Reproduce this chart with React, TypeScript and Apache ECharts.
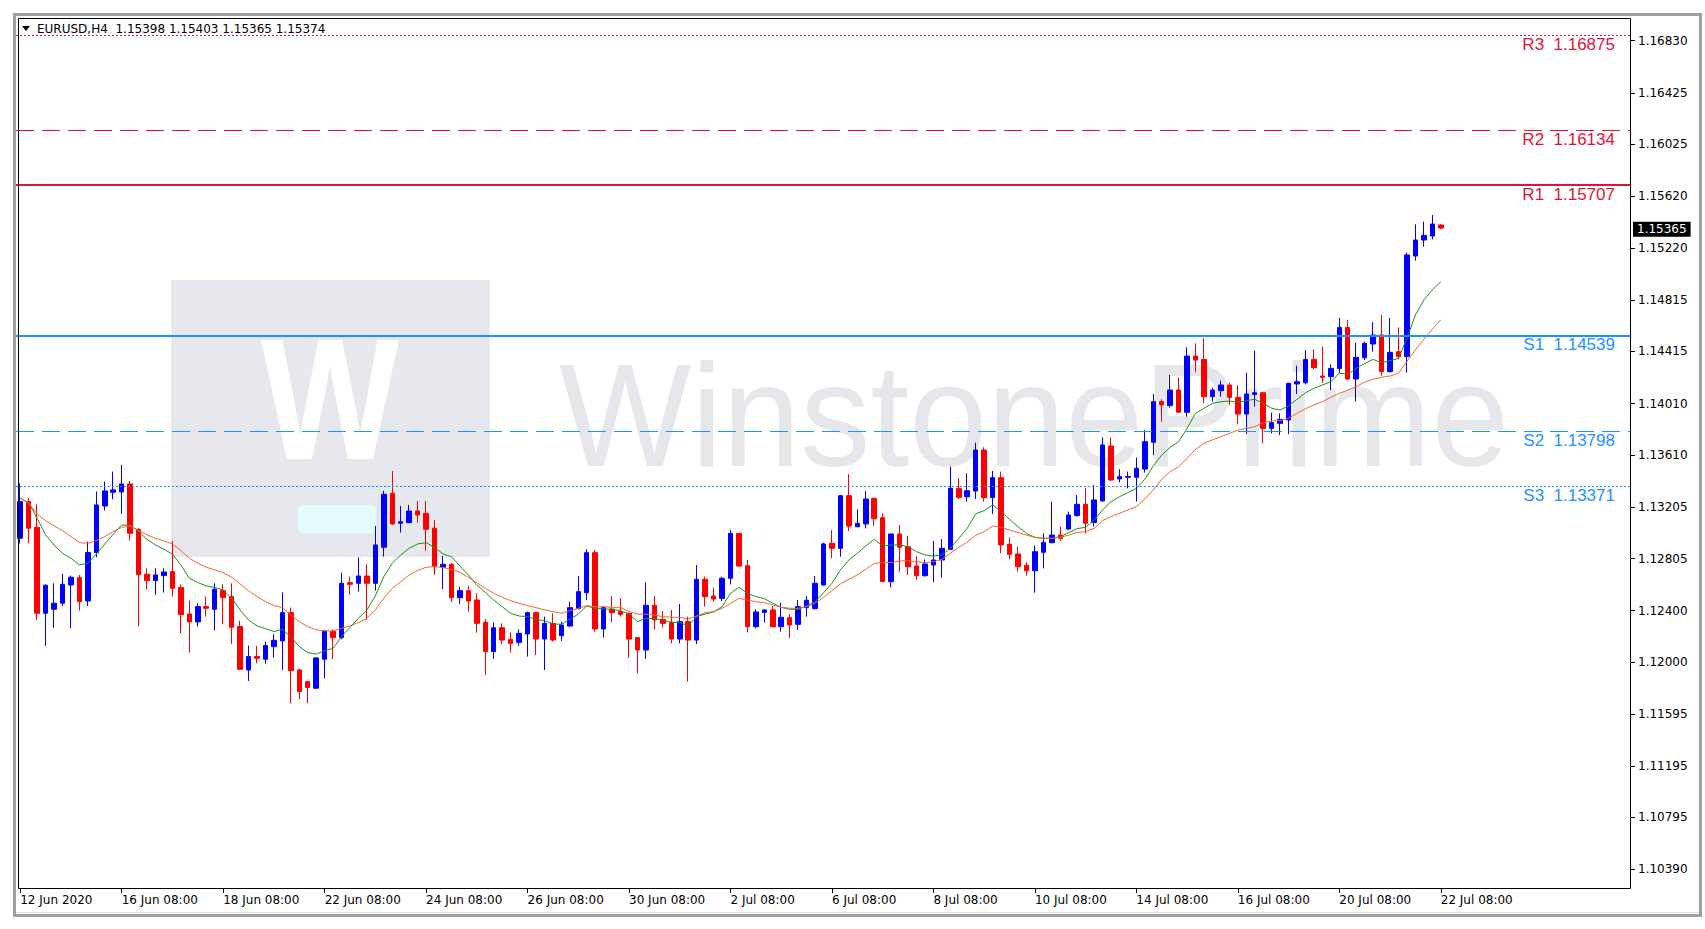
import React, { useEffect, useRef } from "react";
import * as echarts from "echarts";

// ---------- data ----------
const symbolTitle = "EURUSD,H4";
const lastBarOHLC = [1.15398, 1.15403, 1.15365, 1.15374];
const bidPrice = 1.15365;

const tickLabels = [
  "12 Jun 2020", "16 Jun 08:00", "18 Jun 08:00", "22 Jun 08:00", "24 Jun 08:00",
  "26 Jun 08:00", "30 Jun 08:00", "2 Jul 08:00", "6 Jul 08:00", "8 Jul 08:00",
  "10 Jul 08:00", "14 Jul 08:00", "16 Jul 08:00", "20 Jul 08:00", "22 Jul 08:00",
];
const barsPerTickLabel = 12;
const emptyBarsAtRight = 22;

const priceTicks = [
  1.1683, 1.16425, 1.16025, 1.1562, 1.1522, 1.14815, 1.14415, 1.1401, 1.1361,
  1.13205, 1.12805, 1.124, 1.12, 1.11595, 1.11195, 1.10795, 1.1039,
];
const priceMin = 1.102372;
const priceMax = 1.170064;

const levelNames = ["R3", "R2", "R1", "S1", "S2", "S3"];
const levelValues = [1.16875, 1.16134, 1.15707, 1.14539, 1.13798, 1.13371];

const opens = [
  1.12963, 1.13248, 1.13048, 1.1238, 1.12411, 1.12458, 1.126, 1.12657, 1.12476, 1.12852,
  1.13214, 1.1332, 1.13323, 1.13385, 1.13033, 1.12683, 1.12634, 1.12673, 1.12704, 1.1258,
  1.12375, 1.12313, 1.12432, 1.12411, 1.12556, 1.1251, 1.12277, 1.1194, 1.12044, 1.12023,
  1.12121, 1.12165, 1.12385, 1.1194, 1.11849, 1.11798, 1.12023, 1.12238, 1.12191, 1.12618,
  1.12613, 1.1267, 1.12613, 1.12893, 1.13313, 1.13079, 1.13085, 1.13175, 1.13157, 1.13041,
  1.12738, 1.1276, 1.12501, 1.12556, 1.12483, 1.1231, 1.12082, 1.12268, 1.12177, 1.12154,
  1.12219, 1.12385, 1.1218, 1.12302, 1.12206, 1.12281, 1.12416, 1.1254, 1.12851, 1.12258,
  1.12413, 1.12393, 1.1238, 1.12191, 1.12095, 1.12442, 1.12333, 1.1231, 1.1218, 1.12315,
  1.12172, 1.12644, 1.12514, 1.12496, 1.12652, 1.13001, 1.1275, 1.12276, 1.12387, 1.12406,
  1.12276, 1.12346, 1.12294, 1.12424, 1.12416, 1.126, 1.12924, 1.12885, 1.13294, 1.13053,
  1.13074, 1.13273, 1.13123, 1.12626, 1.12996, 1.12898, 1.12748, 1.12672, 1.12755, 1.12794,
  1.12877, 1.13351, 1.13286, 1.1333, 1.13649, 1.13279, 1.13434, 1.12916, 1.12841, 1.12753,
  1.12711, 1.12854, 1.12929, 1.12988, 1.13035, 1.13139, 1.13227, 1.13085, 1.13253, 1.1368,
  1.13424, 1.13437, 1.13437, 1.13501, 1.13709, 1.14025, 1.13994, 1.14115, 1.13942, 1.14379,
  1.14353, 1.14063, 1.1411, 1.14154, 1.14058, 1.13929, 1.14081, 1.14094, 1.13817, 1.13856,
  1.13882, 1.14162, 1.14172, 1.14353, 1.14224, 1.14219, 1.14283, 1.14602, 1.14201, 1.14366,
  1.14473, 1.14543, 1.14258, 1.14413, 1.14375, 1.15157, 1.15281, 1.15312, 1.15398,
];
const highs = [
  1.1339, 1.13274, 1.13227, 1.12605, 1.12613, 1.12686, 1.12673, 1.12678, 1.12937, 1.13326,
  1.13403, 1.13481, 1.13533, 1.13408, 1.13041, 1.1273, 1.1273, 1.1273, 1.12942, 1.12603,
  1.12479, 1.12458, 1.1251, 1.12613, 1.12605, 1.12613, 1.12321, 1.12129, 1.12126, 1.1216,
  1.12217, 1.12541, 1.12424, 1.1195, 1.11852, 1.12038, 1.12245, 1.12256, 1.12696, 1.12665,
  1.12815, 1.12761, 1.13059, 1.13331, 1.13486, 1.13214, 1.13222, 1.13253, 1.13253, 1.13105,
  1.12826, 1.1277, 1.12587, 1.12595, 1.12535, 1.12336, 1.1231, 1.12302, 1.12232, 1.12255,
  1.12393, 1.12393, 1.12354, 1.1238, 1.12315, 1.1247, 1.1267, 1.12877, 1.12872, 1.1243,
  1.12514, 1.12496, 1.12385, 1.12195, 1.12621, 1.12514, 1.12398, 1.12406, 1.12452, 1.12354,
  1.12755, 1.12665, 1.12579, 1.12665, 1.13027, 1.13005, 1.12794, 1.12411, 1.12411, 1.12437,
  1.12463, 1.12372, 1.12483, 1.12515, 1.1267, 1.12929, 1.13027, 1.133, 1.13462, 1.13188,
  1.1333, 1.13279, 1.13157, 1.13001, 1.13066, 1.12981, 1.12825, 1.12799, 1.12942, 1.12957,
  1.13519, 1.13429, 1.13468, 1.13706, 1.1367, 1.13486, 1.13481, 1.1297, 1.12898, 1.12776,
  1.12906, 1.13001, 1.13247, 1.13053, 1.1317, 1.13299, 1.13356, 1.13377, 1.13748, 1.13748,
  1.13499, 1.13481, 1.1359, 1.13804, 1.14084, 1.14043, 1.14232, 1.14214, 1.14447, 1.14478,
  1.14517, 1.14133, 1.14188, 1.14172, 1.14154, 1.1425, 1.14421, 1.141, 1.13939, 1.13934,
  1.14172, 1.14304, 1.14426, 1.14431, 1.14452, 1.14315, 1.14675, 1.14659, 1.14483, 1.14491,
  1.14644, 1.14698, 1.14675, 1.14602, 1.15183, 1.15403, 1.15424, 1.15475, 1.15403,
];
const lows = [
  1.12924, 1.12924, 1.12328, 1.12126, 1.12264, 1.12437, 1.12264, 1.12401, 1.12437, 1.12815,
  1.13178, 1.13266, 1.13152, 1.12945, 1.12277, 1.12567, 1.12523, 1.12541, 1.1251, 1.12225,
  1.12075, 1.12277, 1.12354, 1.12246, 1.12295, 1.12142, 1.1194, 1.11854, 1.11992, 1.11987,
  1.12036, 1.1194, 1.11681, 1.11712, 1.11681, 1.1179, 1.11875, 1.12023, 1.12178, 1.12523,
  1.12549, 1.12328, 1.12556, 1.1282, 1.13067, 1.13007, 1.13079, 1.13085, 1.12865, 1.12678,
  1.12567, 1.1247, 1.12452, 1.12393, 1.12229, 1.119, 1.12025, 1.12139, 1.12074, 1.12128,
  1.12043, 1.12056, 1.11939, 1.1216, 1.12165, 1.12276, 1.1241, 1.12483, 1.12237, 1.12191,
  1.1231, 1.12354, 1.12035, 1.11913, 1.12025, 1.12255, 1.12271, 1.12146, 1.12146, 1.11849,
  1.12141, 1.12432, 1.1247, 1.12475, 1.12605, 1.1274, 1.12232, 1.12263, 1.1231, 1.12271,
  1.12237, 1.12186, 1.1225, 1.12354, 1.1241, 1.12595, 1.12807, 1.1282, 1.13019, 1.1305,
  1.1304, 1.13058, 1.12621, 1.12582, 1.12704, 1.12678, 1.12639, 1.12665, 1.12621, 1.12657,
  1.1287, 1.13268, 1.13247, 1.13268, 1.13247, 1.13152, 1.12846, 1.12799, 1.12704, 1.12672,
  1.1254, 1.12729, 1.12925, 1.12944, 1.13027, 1.13131, 1.13001, 1.13054, 1.13248, 1.13408,
  1.13398, 1.13351, 1.13248, 1.13473, 1.1361, 1.13869, 1.13978, 1.13939, 1.13908, 1.14253,
  1.14012, 1.14025, 1.14063, 1.13999, 1.13848, 1.13773, 1.13986, 1.13701, 1.13778, 1.13765,
  1.13773, 1.14084, 1.14159, 1.14276, 1.14172, 1.14115, 1.14245, 1.14193, 1.14025, 1.14348,
  1.14413, 1.14227, 1.1425, 1.14353, 1.1425, 1.15121, 1.15229, 1.15286, 1.15365,
];
const closes = [
  1.13248, 1.13041, 1.1238, 1.12598, 1.12458, 1.12605, 1.1266, 1.12471, 1.12852, 1.13222,
  1.13331, 1.13339, 1.13385, 1.13002, 1.12681, 1.12634, 1.12678, 1.12701, 1.12574, 1.1237,
  1.12313, 1.12432, 1.12419, 1.12567, 1.12502, 1.12271, 1.11945, 1.12044, 1.12031, 1.12129,
  1.1217, 1.12385, 1.11935, 1.11772, 1.11803, 1.12033, 1.12243, 1.12191, 1.12613, 1.12605,
  1.1267, 1.12613, 1.12911, 1.13305, 1.13074, 1.13092, 1.13175, 1.13144, 1.13033, 1.12743,
  1.12761, 1.12501, 1.12556, 1.12475, 1.12302, 1.12082, 1.12268, 1.12172, 1.12146, 1.12224,
  1.12385, 1.1218, 1.12302, 1.12172, 1.12289, 1.12424, 1.12548, 1.12851, 1.12258, 1.12424,
  1.12385, 1.12372, 1.1218, 1.12095, 1.12442, 1.12328, 1.12302, 1.1218, 1.12315, 1.12172,
  1.12644, 1.12509, 1.12491, 1.12652, 1.13001, 1.12747, 1.12276, 1.1239, 1.12406, 1.12276,
  1.12349, 1.12289, 1.12432, 1.12481, 1.12613, 1.12919, 1.12885, 1.13294, 1.13058, 1.13079,
  1.13268, 1.13115, 1.12626, 1.12996, 1.12893, 1.12742, 1.12672, 1.12763, 1.12794, 1.12885,
  1.13351, 1.13281, 1.13333, 1.13649, 1.13279, 1.13434, 1.12911, 1.12838, 1.12742, 1.12711,
  1.12859, 1.12931, 1.12988, 1.12963, 1.13144, 1.13227, 1.13079, 1.13261, 1.13688, 1.13416,
  1.13442, 1.13444, 1.13507, 1.13714, 1.14025, 1.13999, 1.14115, 1.13942, 1.14379, 1.14348,
  1.14063, 1.14115, 1.14154, 1.14058, 1.13929, 1.14084, 1.14094, 1.13817, 1.13861, 1.13887,
  1.14167, 1.1418, 1.14353, 1.14289, 1.14214, 1.14283, 1.14602, 1.14201, 1.14369, 1.14478,
  1.14543, 1.14258, 1.14408, 1.14374, 1.15165, 1.15281, 1.15317, 1.15405, 1.15374,
];

// moving averages as drawn on the reference (green = fast, orange = slow)
const maFast = [
  1.13274, 1.1324, 1.13118, 1.12989, 1.12911, 1.12846, 1.12808, 1.12756, 1.12769, 1.12841,
  1.12919, 1.12994, 1.13067, 1.13064, 1.13015, 1.12955, 1.12911, 1.12878, 1.12839, 1.12756,
  1.12652, 1.12619, 1.12593, 1.1258, 1.12562, 1.12497, 1.12406, 1.12328, 1.12282, 1.12261,
  1.12238, 1.12256, 1.12199, 1.12121, 1.12075, 1.12062, 1.1209, 1.12108, 1.12199, 1.12269,
  1.12341, 1.12406, 1.12515, 1.12665, 1.12769, 1.12833, 1.12885, 1.12919, 1.12929, 1.12893,
  1.12841, 1.1282, 1.12747, 1.12677, 1.126, 1.12543, 1.12483, 1.12431, 1.1238, 1.12359,
  1.12354, 1.12333, 1.12323, 1.12297, 1.12294, 1.12333, 1.12374, 1.12437, 1.12418, 1.12413,
  1.12411, 1.124, 1.12374, 1.12315, 1.12341, 1.12338, 1.12328, 1.1231, 1.12307, 1.12284,
  1.12354, 1.12374, 1.1239, 1.12431, 1.12535, 1.12582, 1.12535, 1.12509, 1.12494, 1.12458,
  1.12426, 1.12411, 1.12411, 1.12437, 1.1247, 1.1254, 1.12613, 1.12717, 1.12794, 1.12846,
  1.12903, 1.12955, 1.12903, 1.12911, 1.12911, 1.12898, 1.12859, 1.12833, 1.12825, 1.12833,
  1.12885, 1.12963, 1.1304, 1.13152, 1.13178, 1.13222, 1.1317, 1.1311, 1.13053, 1.13001,
  1.1297, 1.12963, 1.12963, 1.12976, 1.13007, 1.13038, 1.13048, 1.13105, 1.13183, 1.13247,
  1.13286, 1.13317, 1.13351, 1.13421, 1.13525, 1.1361, 1.1367, 1.13714, 1.13817, 1.13934,
  1.13973, 1.14012, 1.14024, 1.1403, 1.14019, 1.14032, 1.14043, 1.14012, 1.13973, 1.1396,
  1.13991, 1.14043, 1.14094, 1.14128, 1.14154, 1.1418, 1.14245, 1.14239, 1.14283, 1.14322,
  1.14353, 1.14327, 1.14343, 1.14361, 1.14517, 1.14698, 1.14815, 1.14893, 1.14957,
];
const maSlow = [
  1.13274, 1.13235, 1.13152, 1.131, 1.13059, 1.13023, 1.12976, 1.12929, 1.12924, 1.12945,
  1.12976, 1.13015, 1.13048, 1.13059, 1.13023, 1.12989, 1.12963, 1.12942, 1.12919, 1.12867,
  1.12808, 1.12769, 1.12738, 1.12717, 1.12696, 1.1266, 1.12608, 1.12556, 1.1251, 1.12471,
  1.1244, 1.12424, 1.12367, 1.12315, 1.12277, 1.12251, 1.12243, 1.12243, 1.12264, 1.12282,
  1.12308, 1.12341, 1.12406, 1.12497, 1.12574, 1.12626, 1.12678, 1.12712, 1.12738, 1.12743,
  1.12735, 1.12722, 1.12698, 1.12659, 1.12618, 1.12574, 1.12535, 1.12504, 1.12478, 1.12457,
  1.12439, 1.12424, 1.12406, 1.12393, 1.1238, 1.124, 1.12418, 1.12439, 1.12431, 1.12431,
  1.12426, 1.12426, 1.12393, 1.12374, 1.12372, 1.12367, 1.12354, 1.12349, 1.12349, 1.12336,
  1.12359, 1.12385, 1.12393, 1.12418, 1.12457, 1.12496, 1.12483, 1.1247, 1.12463, 1.12445,
  1.12426, 1.12419, 1.12419, 1.12432, 1.12458, 1.12504, 1.12556, 1.12608, 1.12644, 1.12678,
  1.12722, 1.12768, 1.12774, 1.12774, 1.12786, 1.12789, 1.12781, 1.12774, 1.12781, 1.12799,
  1.12846, 1.12893, 1.12934, 1.12986, 1.13014, 1.13058, 1.13048, 1.13027, 1.13007, 1.12988,
  1.1297, 1.12963, 1.12963, 1.1297, 1.12988, 1.13007, 1.13014, 1.1304, 1.131, 1.13131,
  1.13157, 1.13183, 1.13209, 1.13268, 1.13338, 1.13421, 1.13481, 1.13519, 1.13584, 1.13654,
  1.13701, 1.13727, 1.13753, 1.13778, 1.13804, 1.13817, 1.1383, 1.13861, 1.13874, 1.13877,
  1.13895, 1.13934, 1.1397, 1.13999, 1.14024, 1.14058, 1.14089, 1.14115, 1.14141, 1.14177,
  1.14198, 1.14214, 1.14224, 1.14245, 1.14336, 1.14427, 1.14509, 1.14587, 1.1466,
];

// ---------- styles ----------
const W = 1705;
const H = 929;
const RED = "#dc143c";
const BLUE = "#1e90ff";
const levelStyles: Record<string, { color: string; width: number; type: any }> = {
  R3: { color: RED, width: 1, type: [2, 2] },
  R2: { color: RED, width: 1, type: [18, 8] },
  R1: { color: RED, width: 2, type: "solid" },
  S1: { color: BLUE, width: 2, type: "solid" },
  S2: { color: BLUE, width: 1, type: [18, 8] },
  S3: { color: BLUE, width: 1, type: [2, 2] },
};

export default function App() {
  const ref = useRef<HTMLDivElement>(null);

  useEffect(() => {
    document.body.style.margin = "0";
    if (!ref.current) return;
    const chart = echarts.init(ref.current, undefined, { renderer: "svg" });

    const nCats = opens.length + emptyBarsAtRight;
    const categories = Array.from({ length: nCats }, (_, i) => String(i));
    const showTick = (index: number) =>
      index % barsPerTickLabel === 0 && index / barsPerTickLabel < tickLabels.length;

    const candles = opens.map((o, i) => [o, closes[i], lows[i], highs[i]]);

    const levelMarks: any[] = levelNames.map((name, i) => {
      const st = levelStyles[name];
      return {
        yAxis: levelValues[i],
        lineStyle: { color: st.color, width: st.width, type: st.type },
        label: {
          show: true,
          position: "insideEndBottom",
          formatter: `${name}  ${levelValues[i].toFixed(5)}`,
          color: st.color,
          fontSize: 17,
          fontFamily: "Liberation Sans",
          distance: [16, 1],
        },
      };
    });
    levelMarks.push({
      yAxis: bidPrice,
      lineStyle: { color: "transparent", width: 0 },
      label: {
        show: true,
        position: "end",
        formatter: bidPrice.toFixed(5),
        color: "#ffffff",
        backgroundColor: "#000000",
        padding: [2, 4, 1, 4],
        fontSize: 12,
        fontFamily: "DejaVu Sans",
        distance: 2,
      },
    });

    const axisFont = { fontFamily: "DejaVu Sans", fontSize: 12, color: "#000" };

    chart.setOption({
      animation: false,
      backgroundColor: "#ffffff",
      grid: { left: 16, right: W - 1631, top: 18, bottom: H - 889, containLabel: false },
      xAxis: {
        type: "category",
        data: categories,
        boundaryGap: true,
        axisLine: { show: false },
        axisTick: {
          show: true,
          alignWithLabel: true,
          interval: showTick,
          length: 4,
          lineStyle: { color: "#000" },
        },
        axisLabel: {
          ...axisFont,
          interval: showTick,
          align: "left",
          margin: 5,
          formatter: (_v: string, index: number) => tickLabels[index / barsPerTickLabel] ?? "",
        },
        splitLine: { show: false },
      },
      yAxis: {
        type: "value",
        position: "right",
        min: priceMin,
        max: priceMax,
        axisLine: { show: false },
        axisTick: {
          show: true,
          length: 4,
          customValues: priceTicks,
          lineStyle: { color: "#000" },
        },
        axisLabel: {
          ...axisFont,
          customValues: priceTicks,
          margin: 7,
          formatter: (v: number) => v.toFixed(5),
        },
        splitLine: { show: false },
      },
      series: [
        {
          type: "candlestick",
          data: candles,
          barWidth: 5,
          z: 2,
          itemStyle: {
            color: "#0000ff",
            color0: "#ff0000",
            borderColor: "#0000ff",
            borderColor0: "#ff0000",
            borderWidth: 1,
          },
          emphasis: { disabled: true },
          markLine: {
            silent: true,
            precision: 5,
            symbol: ["none", "none"],
            animation: false,
            emphasis: { disabled: true },
            data: levelMarks,
          },
        },
        {
          type: "line",
          data: maFast,
          showSymbol: false,
          symbol: "none",
          z: 3,
          lineStyle: { color: "#1f8f1f", width: 1 },
          emphasis: { disabled: true },
        },
        {
          type: "line",
          data: maSlow,
          showSymbol: false,
          symbol: "none",
          z: 3,
          lineStyle: { color: "#f4662f", width: 1 },
          emphasis: { disabled: true },
        },
      ],
      graphic: [
        // watermark
        { type: "rect", z: 0, silent: true, shape: { x: 171, y: 280, width: 319, height: 277 }, style: { fill: "#e6e8ed" } },
        { type: "text", z: 0, silent: true, x: 330, y: 400, scaleX: 0.85, style: { text: "W", fill: "#ffffff", fontSize: 172, fontWeight: "bold", fontFamily: "Liberation Sans", align: "center", verticalAlign: "middle" } },
        { type: "rect", z: 0, silent: true, shape: { x: 298, y: 505, width: 78, height: 28, r: 5 }, style: { fill: "#e3fcfd" } },
        { type: "text", z: 0, silent: true, x: 559, y: 415, scaleX: 0.96, style: { text: "WinstonePrime", fill: "#e5e7ea", fontSize: 146, fontFamily: "Liberation Sans", align: "left", verticalAlign: "middle" } },
        // window frame
        { type: "rect", z: 50, silent: true, shape: { x: 14.5, y: 14.5, width: 1686, height: 901 }, style: { fill: "none", stroke: "#a0a0a0", lineWidth: 3 } },
        { type: "line", z: 50, silent: true, shape: { x1: 16, y1: 912.5, x2: 1699, y2: 912.5 }, style: { stroke: "#e0e0e0", lineWidth: 1 } },
        // plot border
        { type: "rect", z: 60, silent: true, shape: { x: 18.5, y: 18.5, width: 1612, height: 870 }, style: { fill: "none", stroke: "#000000", lineWidth: 1 } },
        // header
        { type: "polygon", z: 60, silent: true, shape: { points: [[22, 26], [30, 26], [26, 31]] }, style: { fill: "#000" } },
        {
          type: "text", z: 60, silent: true, x: 37, y: 28.5,
          style: {
            text: `${symbolTitle}  ${lastBarOHLC.map((v) => v.toFixed(5)).join(" ")}`,
            fill: "#000", fontSize: 12, fontFamily: "DejaVu Sans", align: "left", verticalAlign: "middle",
          },
        },
      ],
    });

    return () => chart.dispose();
  }, []);

  return <div ref={ref} style={{ width: W, height: H }} />;
}
